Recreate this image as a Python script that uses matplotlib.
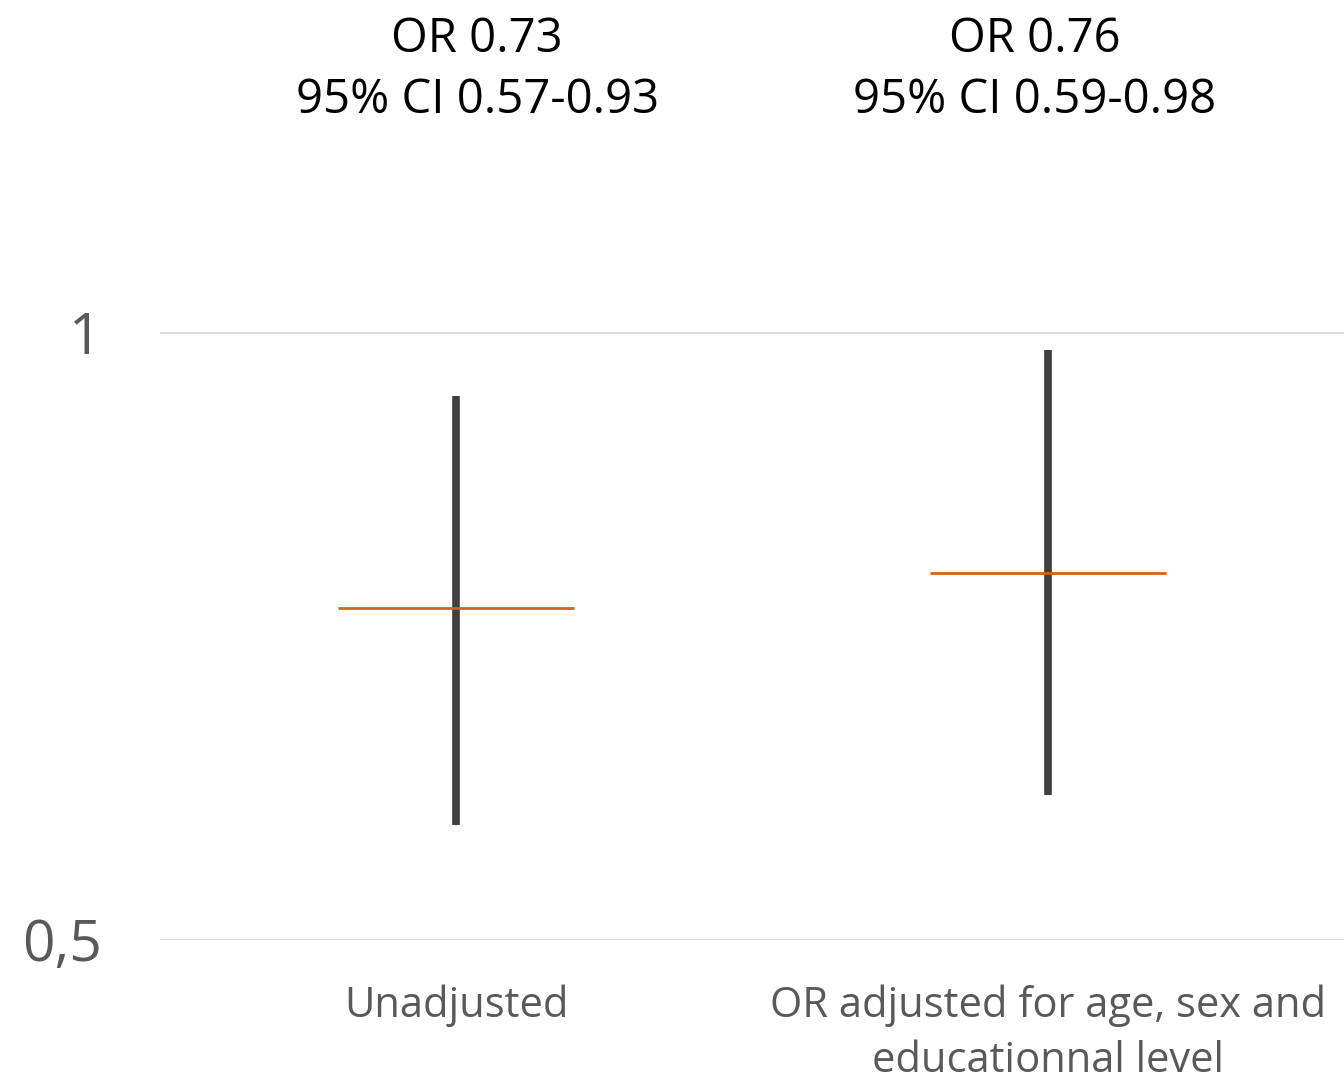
import matplotlib.pyplot as plt
import matplotlib.transforms as mtransforms
from matplotlib.ticker import FixedLocator, NullLocator

plt.rcParams['font.family'] = ['Open Sans', 'DejaVu Sans']

# Odds ratios with 95% confidence intervals
categories = ['Unadjusted', 'OR adjusted for age, sex and\neducationnal level']
odds_ratio = [0.73, 0.76]
ci_low = [0.57, 0.59]
ci_high = [0.93, 0.98]
y_ticks = [0.5, 1]
y_tick_labels = ['0,5', '1']

fig = plt.figure(figsize=(13.44, 10.81), dpi=100)
ax = fig.add_axes([160 / 1344, 1 - 940 / 1081, 1 - 160 / 1344, 940 / 1081])

ax.set_yscale('log')
ax.set_ylim(0.5, 1.462)
ax.set_xlim(-0.5, len(categories) - 0.5)

x = list(range(len(categories)))
ax.vlines(x, ci_low, ci_high, color='#404040', linewidth=5.5, zorder=3)
ax.hlines(odds_ratio, [i - 0.2 for i in x], [i + 0.2 for i in x],
          color='#D2621C', linewidth=2, zorder=4)

ax.yaxis.set_major_locator(FixedLocator(y_ticks))
ax.yaxis.set_minor_locator(NullLocator())
ax.set_yticklabels(y_tick_labels)
ax.set_xticks(x)
ax.set_xticklabels(categories, linespacing=1.42)
ax.tick_params(axis='y', length=0, pad=42, labelsize=41, labelcolor='#595959')
ax.tick_params(axis='x', length=0, pad=32, labelsize=30, labelcolor='#595959')

ax.grid(axis='y', color='#D9D9D9', linewidth=1.5)
ax.set_axisbelow(True)
for s in ax.spines.values():
    s.set_visible(False)

# OR and CI text above each estimate
trans = mtransforms.blended_transform_factory(ax.transData, fig.transFigure)
offsets = [0.036, -0.022]
for i in x:
    label = f'OR {odds_ratio[i]:.2f}\n95% CI {ci_low[i]:.2f}-{ci_high[i]:.2f}'
    ax.text(i + offsets[i], 1 - 70 / 1081, label, transform=trans, ha='center', va='center',
            fontsize=34, color='black', linespacing=1.37, clip_on=False)

fig.savefig('out.png', dpi=100)
